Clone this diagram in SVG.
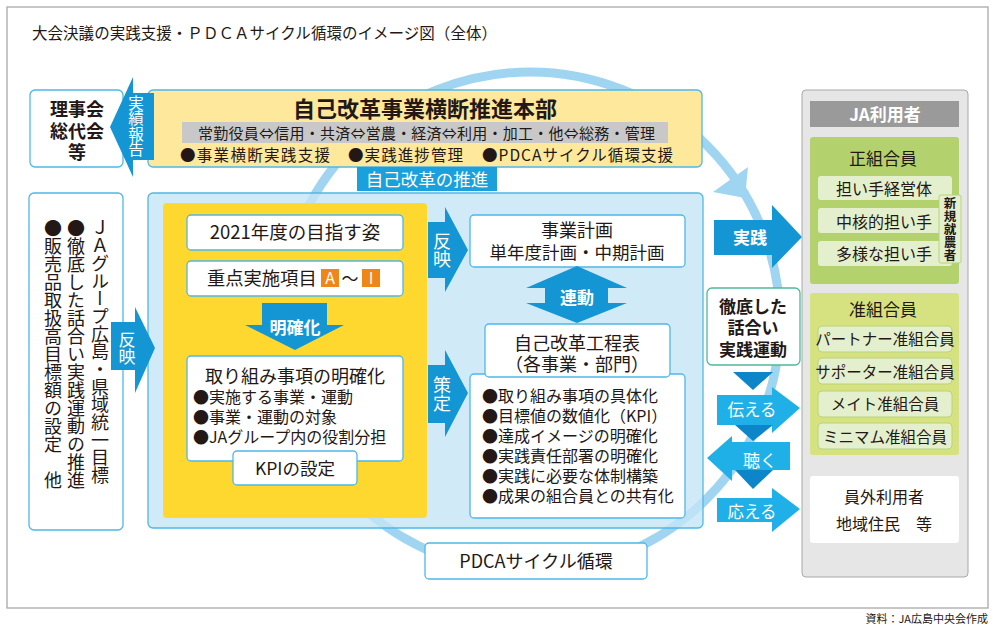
<svg xmlns="http://www.w3.org/2000/svg" width="1000" height="636" viewBox="0 0 1000 636">
<style>
text{font-family:"Noto Sans CJK JP","Noto Sans",sans-serif;fill:#231815}
.b{font-weight:700}
.w{fill:#fff}
.m{text-anchor:middle}
.v{writing-mode:vertical-rl}
.box{fill:#fff;stroke:#4db8e8;stroke-width:1.3}
.arr{fill:#1496d4}
.carr{fill:#20b0e8}
.tri{fill:#0c86c8}
.sub{fill:#e4efcd;stroke:#b8d47a;stroke-width:1}
</style>
<rect x="0" y="0" width="1000" height="636" fill="#fff"/>
<rect x="7" y="7" width="981" height="601" fill="#fff" stroke="#a8a8a8" stroke-width="1.3"/>
<text x="32" y="39" font-size="15.5" textLength="465">大会決議の実践支援・ＰＤＣＡサイクル循環のイメージ図（全体）</text>

<g id="connectors">
  <circle cx="530" cy="322" r="250" fill="none" stroke="#a0d5f2" stroke-width="9"/>
  <polygon points="713,192 748,167 745,198" fill="#a0d5f2"/>
</g>

<g id="board">
  <rect x="30" y="90" width="93" height="77" rx="5" class="box"/>
  <text x="77" y="116" font-size="18" class="b m">理事会</text>
  <text x="77" y="138" font-size="18" class="b m">総代会</text>
  <text x="77" y="159" font-size="18" class="b m">等</text>
</g>

<g id="hq">
  <rect x="148" y="90" width="554" height="77" rx="5" fill="#fde89c" stroke="#4db8e8" stroke-width="1.3"/>
  <text x="425" y="117" font-size="22" class="b m">自己改革事業横断推進本部</text>
  <rect x="182" y="122" width="486" height="21" fill="#c8c8c8"/>
  <text x="198" y="139" font-size="15" textLength="457">常勤役員⇔信用・共済⇔営農・経済⇔利用・加工・他⇔総務・管理</text>
  <text x="180" y="161" font-size="15.5" textLength="150">●事業横断実践支援</text>
  <text x="348" y="161" font-size="15.5" textLength="115">●実践進捗管理</text>
  <text x="482" y="161" font-size="15.5" textLength="191">●PDCAサイクル循環支援</text>
</g>

<g id="goals">
  <rect x="29" y="193" width="94" height="337" rx="5" class="box"/>
  <text x="100" y="219" font-size="18" class="v" textLength="265">ＪＡグループ広島・県域統一目標</text>
  <text x="76" y="219" font-size="18" class="v">●徹底した話合い実践運動の推進</text>
  <text x="53" y="219" font-size="18" class="v">●販売品取扱高目標額の設定　他</text>
</g>

<g id="promotion">
  <rect x="148" y="193" width="555" height="335" rx="5" fill="#c4e5f6" fill-opacity="0.8" stroke="#4db8e8" stroke-width="1.3"/>
  <rect x="163" y="203" width="264" height="315" rx="4" fill="#fed82f"/>
</g>

<g id="promo-label">
  <rect x="357" y="167" width="140" height="24" fill="#1aa0dc"/>
  <text x="427" y="186" font-size="17.5" class="w m">自己改革の推進</text>
</g>

<g id="goal2021">
  <rect x="187" y="215" width="216" height="35" rx="4" class="box"/>
  <text x="295" y="239" font-size="18.5" class="m">2021年度の目指す姿</text>
</g>

<g id="priority">
  <rect x="187" y="261" width="216" height="35" rx="4" class="box"/>
  <text x="207" y="285" font-size="18.3">重点実施項目</text>
  <rect x="321" y="269" width="18" height="18" fill="#ef8718"/>
  <text x="330" y="284" font-size="16" class="w m">A</text>
  <text x="350" y="285" font-size="17" class="m">〜</text>
  <rect x="362" y="269" width="18" height="18" fill="#ef8718"/>
  <text x="371" y="284" font-size="16" class="w m">I</text>
</g>

<g id="clarify">
  <rect x="187" y="356" width="216" height="105" rx="4" class="box"/>
  <text x="295" y="383" font-size="18" class="m">取り組み事項の明確化</text>
  <text x="193" y="403" font-size="16">●実施する事業・運動</text>
  <text x="193" y="423" font-size="16">●事業・運動の対象</text>
  <text x="193" y="443" font-size="16">●JAグループ内の役割分担</text>
</g>

<g id="kpi">
  <rect x="233" y="451" width="124" height="34" rx="4" class="box"/>
  <text x="295" y="475" font-size="17.5" class="m">KPIの設定</text>
</g>

<g id="plan">
  <rect x="470" y="215" width="215" height="52" rx="4" class="box"/>
  <text x="577" y="237" font-size="18" class="m">事業計画</text>
  <text x="577" y="259" font-size="17.5" class="m">単年度計画・中期計画</text>
</g>

<g id="schedule">
  <rect x="470" y="374" width="215" height="144" rx="4" class="box"/>
  <rect x="485" y="324" width="185" height="53" rx="4" class="box"/>
  <text x="577" y="350" font-size="18" class="m">自己改革工程表</text>
  <text x="577" y="371" font-size="18" class="m">（各事業・部門）</text>
  <text x="482" y="402" font-size="16">●取り組み事項の具体化</text>
  <text x="482" y="422" font-size="16">●目標値の数値化（KPI）</text>
  <text x="482" y="442" font-size="16">●達成イメージの明確化</text>
  <text x="482" y="462" font-size="16">●実践責任部署の明確化</text>
  <text x="482" y="482" font-size="16">●実践に必要な体制構築</text>
  <text x="482" y="502" font-size="16">●成果の組合員との共有化</text>
</g>

<g id="arrows">
  <polygon points="154,93 154,160 133,160 133,177 110,127 133,77 133,93" class="arr"/>
  <text x="136" y="95" font-size="15.5" class="v w">実績報告</text>

  <polygon points="111,322 135,322 135,307 155,348 135,393 135,370 111,370" class="arr"/>
  <text x="127" y="331" font-size="17" class="v w">反映</text>

  <polygon points="428,222 445,222 445,207 468,250 445,292 445,278 428,278" class="arr"/>
  <text x="442" y="232" font-size="18" class="v w">反映</text>

  <polygon points="428,365 445,365 445,350 468,393 445,437 445,423 428,423" class="arr"/>
  <text x="442" y="376" font-size="18" class="v w">策定</text>

  <polygon points="262,303 327,303 327,325 344,325 295,350 245,325 262,325" class="arr"/>
  <text x="295" y="334" font-size="17" class="b w m">明確化</text>

  <polygon points="577,266 627,288 608,288 608,303 627,303 577,323 526,303 545,303 545,288 526,288" class="arr"/>
  <text x="577" y="304" font-size="17" class="b w m">連動</text>

  <polygon points="714,220 772,220 772,205 802,237 772,268 772,255 714,255" class="arr"/>
  <text x="750" y="244" font-size="17" class="b w m">実践</text>
</g>

<g id="dialogue">
  <rect x="707" y="288" width="93" height="77" rx="5" fill="#fff" stroke="#4db89a" stroke-width="1.3"/>
  <text x="753" y="313" font-size="17" class="b m">徹底した</text>
  <text x="753" y="334" font-size="17" class="b m">話合い</text>
  <text x="753" y="356" font-size="17" class="b m">実践運動</text>
</g>

<g id="cycle-arrows">
  <polygon points="733,372 773,372 753,390" class="tri"/>
  <polygon points="717,395 772,395 772,387 800,408 772,433 772,425 717,425" class="carr"/>
  <text x="752" y="416" font-size="16.5" class="w m">伝える</text>
  <polygon points="735,425 773,425 753,441" class="tri"/>
  <polygon points="790,442 790,470 732,470 732,481 707,458 732,436 732,442" class="carr"/>
  <text x="760" y="467" font-size="17" class="w m">聴く</text>
  <polygon points="735,470 773,470 753,489" class="tri"/>
  <polygon points="717,498 772,498 772,488 800,509 772,532 772,522 717,522" class="carr"/>
  <text x="752" y="518" font-size="16.5" class="w m">応える</text>
</g>

<g id="users">
  <rect x="802" y="90" width="166" height="487" rx="4" fill="#e6e6e6" stroke="#a8a8a8" stroke-width="1"/>
  <rect x="810" y="101" width="149" height="26" fill="#9a9a9a"/>
  <text x="885" y="121" font-size="17" class="b w m">JA利用者</text>
</g>

<g id="regular">
  <rect x="810" y="137" width="149" height="147" rx="3" fill="#b3d26e"/>
  <text x="883" y="165" font-size="17" class="m">正組合員</text>
  <rect x="818" y="176" width="134" height="24" rx="3" fill="#e4efcd"/>
  <text x="884" y="195" font-size="16" class="m">担い手経営体</text>
  <rect x="818" y="208" width="134" height="25" rx="3" fill="#e4efcd"/>
  <text x="884" y="228" font-size="16" class="m">中核的担い手</text>
  <rect x="818" y="241" width="134" height="25" rx="3" fill="#e4efcd"/>
  <text x="884" y="260" font-size="16" class="m">多様な担い手</text>
  <rect x="939" y="195" width="22" height="68" rx="2" class="sub"/>
  <text x="950" y="197" font-size="12.5" class="v b" textLength="64">新規就農者</text>
</g>

<g id="associate">
  <rect x="810" y="293" width="149" height="162" rx="3" fill="#d6e27f"/>
  <text x="883" y="316" font-size="17" class="m">准組合員</text>
  <rect x="818" y="326" width="134" height="26" rx="4" class="sub"/>
  <text x="885" y="345" font-size="15.5" class="m">パートナー准組合員</text>
  <rect x="818" y="358" width="134" height="26" rx="4" class="sub"/>
  <text x="885" y="378" font-size="15.5" class="m">サポーター准組合員</text>
  <rect x="818" y="391" width="134" height="26" rx="4" class="sub"/>
  <text x="885" y="410" font-size="15.5" class="m">メイト准組合員</text>
  <rect x="818" y="423" width="134" height="26" rx="4" class="sub"/>
  <text x="885" y="443" font-size="15.5" class="m">ミニマム准組合員</text>
</g>

<g id="nonmember">
  <rect x="810" y="476" width="149" height="67" rx="3" fill="#fff"/>
  <text x="884" y="503" font-size="16" class="m">員外利用者</text>
  <text x="884" y="530" font-size="16" class="m">地域住民　等</text>
</g>

<g id="pdca">
  <rect x="425" y="543" width="222" height="36" rx="4" class="box"/>
  <text x="536" y="568" font-size="18" class="m">PDCAサイクル循環</text>
</g>

<text x="988" y="623" font-size="11" text-anchor="end">資料：JA広島中央会作成</text>
</svg>
